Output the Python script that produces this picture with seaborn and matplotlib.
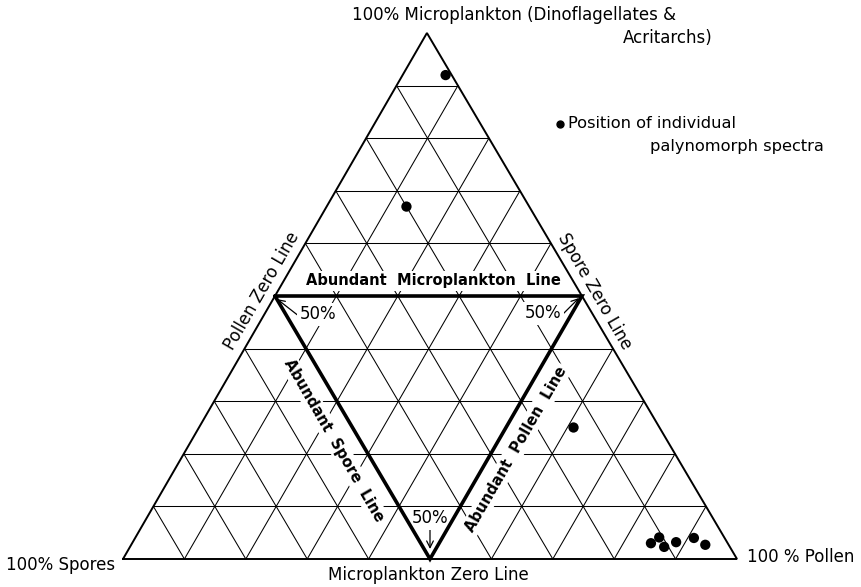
import numpy as np
import pandas as pd
import matplotlib
matplotlib.use("Agg")
import matplotlib.pyplot as plt
import seaborn as sns

# Palynomorph spectra: percentage of each group in every sample
microplankton = [92.0, 67.0, 25.0, 3.0, 4.1, 2.3, 3.2, 4.0, 2.7]
pollen = [7.0, 13.0, 61.0, 84.5, 85.3, 87.0, 88.5, 91.0, 93.5]
spores = [1.0, 20.0, 14.0, 12.5, 10.6, 10.7, 8.3, 5.0, 3.8]

grid_percent = [10, 20, 30, 40, 50, 60, 70, 80, 90]
abundant_percent = 50

W, H = 862, 587
APEX = 0.495          # horizontal position of the apex along the base
X0, Y0, SX, SY = 123, 559, 614, 526   # base-left corner and scale in pixels


def tern(m, p):
    """Cartesian position of a composition given microplankton / pollen fractions."""
    m = np.asarray(m, dtype=float)
    p = np.asarray(p, dtype=float)
    return p + APEX * m, m


def px(x, y):
    """Figure-pixel position expressed in data coordinates."""
    return (x - X0) / SX, (Y0 - y) / SY


sns.set_theme(style="white")
plt.rcParams["font.family"] = ["DejaVu Sans"]
plt.rcParams["text.color"] = "black"

fig = plt.figure(figsize=(W / 100, H / 100), dpi=100)
ax = fig.add_axes([0, 0, 1, 1])
ax.set_xlim(-X0 / SX, (W - X0) / SX)
ax.set_ylim(-(H - Y0) / SY, Y0 / SY)
ax.axis("off")

# 10 % grid
for g in grid_percent:
    f = g / 100
    for (m1, p1), (m2, p2) in [((f, 0), (f, 1 - f)),        # constant microplankton
                               ((0, f), (1 - f, f)),        # constant pollen
                               ((0, 1 - f), (1 - f, 0))]:   # constant spores
        x, y = tern([m1, m2], [p1, p2])
        ax.plot(x, y, color="black", lw=0.75, zorder=1)

# outer triangle (zero lines)
x, y = tern([0, 0, 1, 0], [0, 1, 0, 0])
ax.plot(x, y, color="black", lw=1.4, zorder=2, solid_joinstyle="miter")

# abundance lines joining the 50 % points
a = abundant_percent / 100
x, y = tern([a, a, 0, a], [0, a, a, 0])
ax.plot(x, y, color="black", lw=2.6, zorder=4.5, solid_joinstyle="miter")

# samples
df = pd.DataFrame({"microplankton": microplankton, "pollen": pollen, "spores": spores})
df["x"], df["y"] = tern(df["microplankton"] / 100, df["pollen"] / 100)
sns.scatterplot(data=df, x="x", y="y", color="black", s=55, edgecolor="none",
                ax=ax, zorder=5, legend=False)

fs = 12
white = dict(boxstyle="square,pad=0.15", fc="white", ec="none")

# corner and edge captions
ax.text(*px(352, 15), "100% Microplankton (Dinoflagellates &", ha="left", va="center", fontsize=fs)
ax.text(*px(623, 38), "Acritarchs)", ha="left", va="center", fontsize=fs)
ax.text(*px(6, 565), "100% Spores", ha="left", va="center", fontsize=fs)
ax.text(*px(747, 557), "100 % Pollen", ha="left", va="center", fontsize=fs)
ax.text(*px(428, 575), "Microplankton Zero Line", ha="center", va="center", fontsize=fs)
ax.text(*px(262, 291), "Pollen Zero Line", ha="center", va="center", rotation=60,
        rotation_mode="anchor", fontsize=fs)
ax.text(*px(595, 291), "Spore Zero Line", ha="center", va="center", rotation=-60,
        rotation_mode="anchor", fontsize=fs)

# key
ax.plot(*px(560, 124), marker="o", color="black", markersize=5)
ax.text(*px(568, 124), "Position of individual", ha="left", va="center", fontsize=11.7)
ax.text(*px(650, 147), "palynomorph spectra", ha="left", va="center", fontsize=11.7)

# abundance line captions
ax.text(*px(433, 281), "Abundant  Microplankton  Line", ha="center", va="center",
        fontsize=10.5, fontweight="bold", bbox=white, zorder=4)
ax.text(*px(334, 440), "Abundant  Spore  Line", ha="center", va="center", rotation=-60,
        rotation_mode="anchor", fontsize=10.6, fontweight="bold", bbox=white, zorder=4)
ax.text(*px(516, 449), "Abundant  Pollen  Line", ha="center", va="center", rotation=60,
        rotation_mode="anchor", fontsize=10.6, fontweight="bold", bbox=white, zorder=4)

# 50 % markers with arrows
arrow = dict(arrowstyle="->", color="black", lw=0.9, shrinkA=0, shrinkB=0)
ax.annotate("50%", xy=px(277, 299), xytext=px(318, 314), ha="center", va="center",
            fontsize=fs, bbox=white, zorder=4,
            arrowprops=dict(arrow, relpos=(0.0, 0.35)))
ax.annotate("50%", xy=px(579, 298), xytext=px(543, 313), ha="center", va="center",
            fontsize=fs, bbox=white, zorder=4,
            arrowprops=dict(arrow, relpos=(1.0, 0.35)))
ax.annotate("50%", xy=px(430, 549), xytext=px(430, 518), ha="center", va="center",
            fontsize=fs, bbox=white, zorder=4,
            arrowprops=dict(arrow, relpos=(0.5, 0.0)))

fig.savefig("out.png", dpi=100, facecolor="white")
